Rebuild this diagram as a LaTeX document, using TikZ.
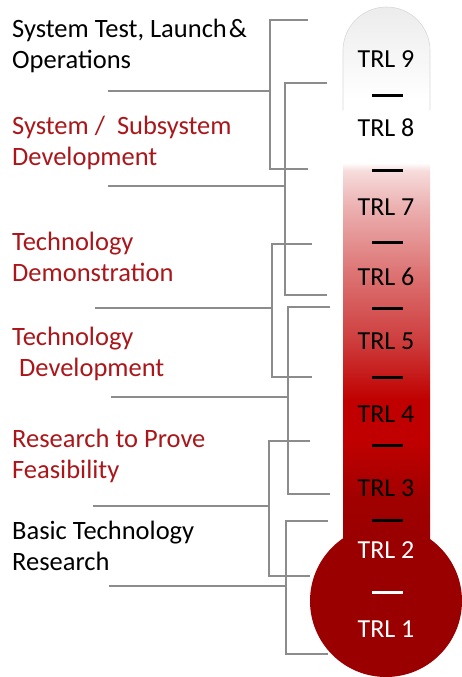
\documentclass[tikz,border=0pt]{standalone}
\usepackage{fontspec}
\setmainfont{Carlito}
\usepackage{xcolor}
\usepackage{tikz}
\usetikzlibrary{calc}

\definecolor{phasered}{RGB}{170,22,26}
\definecolor{linegray}{RGB}{140,140,140}
\definecolor{bulbred}{RGB}{155,0,0}
\definecolor{tubedark}{RGB}{153,0,0}
\definecolor{tubedarktwo}{RGB}{160,0,0}
\definecolor{tubered}{RGB}{192,0,0}
\definecolor{tubemid}{RGB}{206,62,62}
\definecolor{tubesoft}{RGB}{220,112,112}
\definecolor{tubepink}{RGB}{236,176,176}
\definecolor{tubeblush}{RGB}{247,220,220}
\definecolor{tubetop}{RGB}{236,236,236}

\pgfdeclareverticalshading{trltube}{100bp}{color(0bp)=(tubedark); color(25bp)=(tubedark);
  color(30.4bp)=(tubedarktwo); color(35.8bp)=(tubered); color(39.5bp)=(tubered);
  color(44.9bp)=(tubemid); color(50.6bp)=(tubesoft); color(56.9bp)=(tubepink);
  color(60.2bp)=(tubeblush); color(60.9bp)=(white); color(66.6bp)=(white);
  color(75bp)=(tubetop); color(100bp)=(tubetop)}

\tikzset{
  phase/.style={anchor=base west, inner sep=0pt, align=left, font=\fontsize{26.5}{31}\selectfont},
  level/.style={anchor=base, inner sep=0pt, font=\fontsize{26}{31}\selectfont},
  bracket/.style={draw=linegray, line width=2.5pt},
  levelmark/.style={line width=3pt}
}

\begin{document}
\begin{tikzpicture}[x=1pt,y=-1pt]
	\useasboundingbox (0,0) rectangle (462,677);
	% phases (placed by the baseline of their last line)
	\node[phase] (ops) at (12,68) {System Test, Launch\hspace{2pt}\&\\Operations};
	\node[phase, phasered] (sysdev) at (12,165) {System / \ Subsystem\\Development};
	\node[phase, phasered] (techdemo) at (12,281) {Technology\\Demonstration};
	\node[phase, phasered] (techdev) at (12,376) {Technology\\\hspace{7pt}Development};
	\node[phase, phasered] (feasib) at (12,478) {Research to Prove\\Feasibility};
	\node[phase] (basicres) at (12,570) {Basic Technology\\Research};
	% brackets
	\foreach \name/\xv/\xr/\yt/\yb/\ym/\xl in {ops/270/308/20/169/91/108, sysdev/285/327/83/295/186/108,
		techdemo/272/312/244/377/308/95, techdev/288/330/307/494/397/111,
		feasib/269/310/441/576/506/93, basicres/286/328/521/654/586/109}
	{
		\coordinate (\name-top) at (\xr,\yt);
		\coordinate (\name-bot) at (\xr,\yb);
		\coordinate (\name-tick) at (\xl,\ym);
		\draw[bracket] (\name-top) -- (\xv,\yt) -- (\xv,\yb) -- (\name-bot);
		\draw[bracket] (\name-tick) -- (\xv,\ym);
	}
	% thermometer
	\shade[shading=trltube] (343,560) [rounded corners=43.5pt] -- (343,7) -- (430,7) [sharp corners] -- (430,560) -- cycle;
	\draw[black!15, line width=0.6pt] (343,110) [rounded corners=43.5pt] -- (343,7) -- (430,7) [sharp corners] -- (430,110);
	\fill[bulbred] (386,601) circle (76);
	% levels
	\foreach \n/\y in {9/67, 8/136, 7/215, 6/285, 5/349, 4/422, 3/496}
		\node[level] (trl\n) at (386,\y) {TRL \n};
	\foreach \n/\y in {2/558, 1/637}
		\node[level, white] (trl\n) at (386,\y) {TRL \n};
	\foreach \y in {95, 170, 242, 308, 377, 445, 520}
		\draw[levelmark] (372,\y) -- (403,\y);
	\draw[levelmark, white] (372,592) -- (403,592);
\end{tikzpicture}
\end{document}
